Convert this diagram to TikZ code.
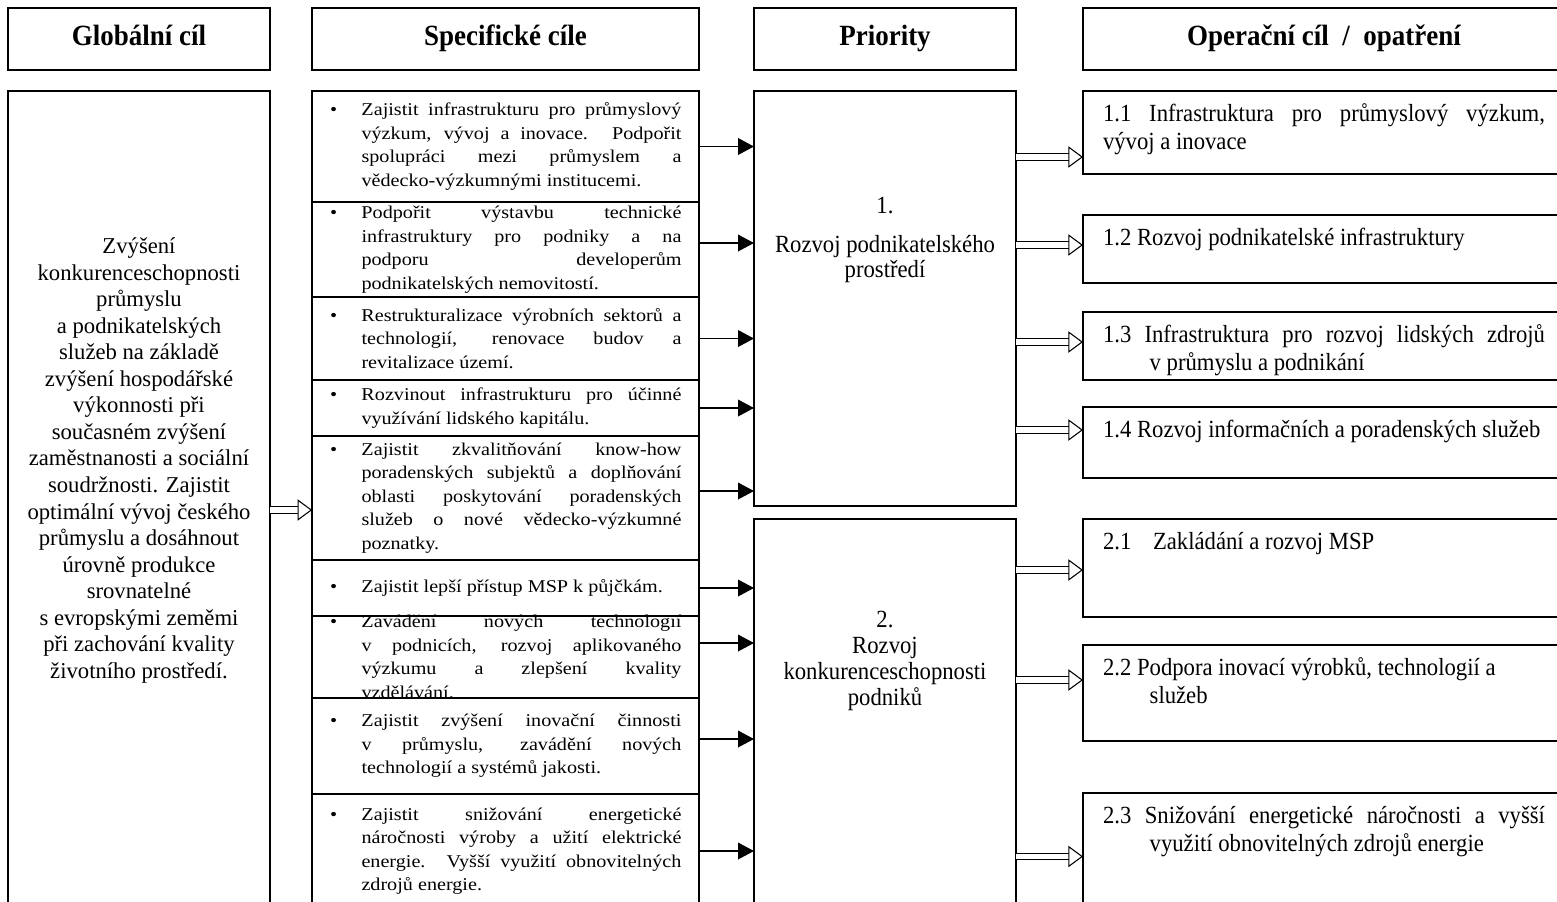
\documentclass[tikz,border=0pt]{standalone}
\usepackage{fontspec}
\setmainfont{Liberation Serif}
\newfontfamily\uzkepismo[FakeStretch=0.92]{Liberation Serif}
\newfontfamily\sirokepismo[FakeStretch=1.12]{Liberation Serif}
\usetikzlibrary{arrows.meta,positioning,calc}

\tikzset{every picture/.style={line width=0.75pt}}
\tikzset{
  ramecek/.style={draw, line width=1.2pt, inner sep=0pt, outer sep=0pt},
  hlavicka/.style={ramecek, minimum height=46.5pt, text height=15pt, text depth=5pt, font=\uzkepismo\bfseries\fontsize{22}{26}\selectfont},
  cil/.style={ramecek, minimum width=290pt},
  priorita/.style={ramecek, minimum width=196.5pt, anchor=north},
  opatreni/.style={ramecek, inner xsep=15pt, anchor=north west},
  sipka/.style={line width=1.1pt, -{Triangle[length=12pt,width=12.5pt]}},
  dvojsipka/.style={double, double distance=4pt, line width=0.8pt, -{Triangle[open,length=11pt,width=16pt]}},
}

% bullet box of the specific goals
\newcommand{\specbox}[2]{\makebox[272pt][l]{\parbox[c][#1][c]{268pt}{\sirokepismo\fontsize{13.5}{17.6}\selectfont
  \hyphenpenalty=10000\exhyphenpenalty=10000
  \hangindent=28pt\hangafter=1\noindent\makebox[28pt][l]{\hspace{4.5pt}\textbullet}#2}}}
% text of the measures
\newcommand{\opbox}[3]{\parbox[c][#1][t]{331.5pt}{\uzkepismo\fontsize{18.5}{21}\selectfont
  \hyphenpenalty=10000\exhyphenpenalty=10000
  \hangindent=#2\hangafter=1\noindent\rule{0pt}{23pt}#3}}

\begin{document}
\begin{tikzpicture}[x=0.75pt,y=0.75pt,yscale=-1,xscale=1]
\useasboundingbox (0,0) rectangle (1557,901);

%Shape: Rectangle [headers]
\node[hlavicka, minimum width=196.5pt, anchor=north] (hglob) at (139,8) {Globální cíl};
\node[hlavicka, minimum width=290pt, anchor=north] (hspec) at (505.5,8) {Specifické cíle};
\node[hlavicka, minimum width=196.5pt, anchor=north] (hprio) at (885,8) {Priority};
\node[hlavicka, minimum width=361.5pt, anchor=north west] (hop) at (1083,8) {Operační cíl~~/~~opatření};

%Shape: Rectangle [global goal]
\node[ramecek, minimum width=196.5pt, anchor=north] (glob) at (139,91) {\parbox[c][618pt][t]{194pt}{\centering\fontsize{17}{19.9}\selectfont
  \rule{0pt}{122pt}Zvýšení\\ konkurenceschopnosti\\ průmyslu\\ a podnikatelských\\ služeb na základě\\ zvýšení hospodářské\\ výkonnosti při\\ současném zvýšení\\ zaměstnanosti a sociální\\ soudržnosti. Zajistit\\ optimální vývoj českého\\ průmyslu a dosáhnout\\ úrovně produkce\\ srovnatelné\\ s evropskými zeměmi\\ při zachování kvality\\ životního prostředí.}};

%Shape: Rectangle [specific goals]
\node[cil, anchor=north] (s1) at (505.5,91) {\specbox{83.25pt}{Zajistit infrastrukturu pro průmyslový\linebreak výzkum, vývoj a~inovace. Podpořit\linebreak spolupráci mezi průmyslem a\linebreak vědecko-výzkumnými institucemi.}};
\node[cil, below=0pt of s1] (s2) {\specbox{71.25pt}{Podpořit výstavbu technické\linebreak infrastruktury pro podniky a na\linebreak podporu developerům\linebreak podnikatelských nemovitostí.}};
\node[cil, below=0pt of s2] (s3) {\specbox{62.25pt}{Restrukturalizace výrobních sektorů a\linebreak technologií, renovace budov a\linebreak revitalizace území.}};
\node[cil, below=0pt of s3] (s4) {\specbox{42pt}{Rozvinout infrastrukturu pro účinné\linebreak využívání lidského kapitálu.}};
\node[cil, below=0pt of s4] (s5) {\specbox{93pt}{Zajistit zkvalitňování know-how\linebreak poradenských subjektů a doplňování\linebreak oblasti poskytování poradenských\linebreak služeb o nové vědecko-výzkumné\linebreak poznatky.}};
\node[cil, below=0pt of s5] (s6) {\specbox{42pt}{Zajistit lepší přístup MSP k půjčkám.}};
\node[cil, below=0pt of s6] (s7) {\specbox{61.5pt}{Zavádění nových technologií\linebreak v~podnicích, rozvoj aplikovaného\linebreak výzkumu a zlepšení kvality\linebreak vzdělávání.}};
\node[cil, below=0pt of s7] (s8) {\specbox{72pt}{Zajistit zvýšení inovační činnosti\linebreak v~průmyslu, zavádění nových\linebreak technologií a systémů jakosti.}};
\node[cil, below=0pt of s8] (s9) {\specbox{85.5pt}{Zajistit snižování energetické\linebreak náročnosti výroby a užití elektrické\linebreak energie. Vyšší využití obnovitelných\linebreak zdrojů energie.}};

%Shape: Rectangle [priorities]
\node[priorita] (p1) at (885,91) {\parbox[c][311.25pt][t]{190pt}{\centering\uzkepismo\fontsize{18.5}{18.75}\selectfont
  \rule{0pt}{91.5pt}1.\\[10.5pt] Rozvoj podnikatelského\\ prostředí}};
\node[priorita] (p2) at (885,519) {\parbox[c][301pt][t]{190pt}{\centering\uzkepismo\fontsize{18.5}{19.5}\selectfont
  \rule{0pt}{81pt}2.\\ Rozvoj\\ konkurenceschopnosti\\ podniků}};

%Shape: Rectangle [measures]
\node[opatreni] (r11) at (1083,91) {\opbox{62.25pt}{0pt}{1.1 Infrastruktura pro průmyslový výzkum,\linebreak vývoj a inovace}};
\node[opatreni] (r12) at (1083,215) {\opbox{51pt}{0pt}{1.2 Rozvoj podnikatelské infrastruktury}};
\node[opatreni] (r13) at (1083,312) {\opbox{51pt}{35pt}{1.3 Infrastruktura pro rozvoj lidských zdrojů\linebreak v~průmyslu a podnikání}};
\node[opatreni] (r14) at (1083,407) {\opbox{53.25pt}{35pt}{1.4 Rozvoj informačních a poradenských služeb}};
\node[opatreni] (r21) at (1083,519) {\opbox{73.5pt}{35pt}{2.1\hspace{12pt} Zakládání a rozvoj MSP}};
\node[opatreni] (r22) at (1083,645) {\opbox{72pt}{35pt}{2.2 Podpora inovací výrobků, technologií a\\ služeb}};
\node[opatreni] (r23) at (1083,793) {\opbox{95.25pt}{35pt}{2.3 Snižování energetické náročnosti a vyšší\linebreak využití obnovitelných zdrojů energie}};

%Straight Lines [goal -> specific goals]
\coordinate (g5) at ($(s5.west)+(0,12)$);
\draw[dvojsipka] (glob.east |- g5) -- (g5);

%Straight Lines [specific goals -> priorities]
\foreach \s/\p/\dy in {s1/p1/0, s2/p1/-6.5, s3/p1/0, s4/p1/0, s5/p1/-7, s6/p2/0, s7/p2/-14, s8/p2/-7, s9/p2/0}{
  \coordinate (z) at ($(\s.east)+(0,\dy)$);
  \draw[sipka] (z) -- (z -| \p.west);
}

%Straight Lines [priorities -> measures]
\foreach \p/\r/\dy in {p1/r11/24.5, p1/r12/-4, p1/r13/-4, p1/r14/-12.5, p2/r21/2, p2/r22/-13, p2/r23/0}{
  \coordinate (t) at ($(\r.west)+(0,\dy)$);
  \draw[dvojsipka] (\p.east |- t) -- (t);
}

\end{tikzpicture}
\end{document}
